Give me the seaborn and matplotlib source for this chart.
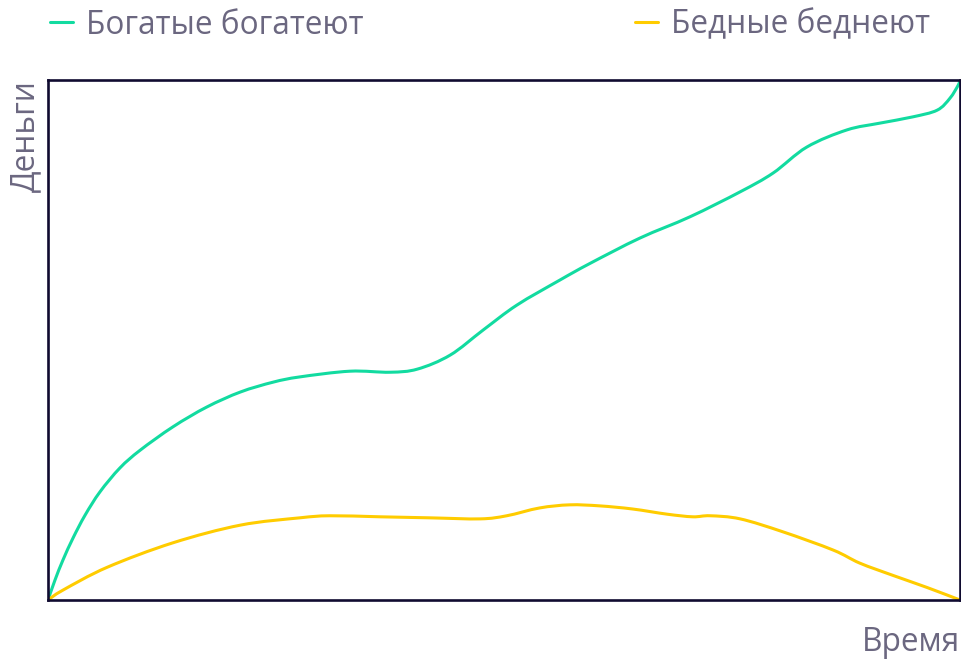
import matplotlib
matplotlib.use("Agg")
import matplotlib.pyplot as plt
from matplotlib.path import Path
from matplotlib.patches import PathPatch
import seaborn as sns
import pandas as pd

# Time axis and money values for the "rich" series
rich_time = [0, 0.77, 1.64, 2.74, 4.06, 5.70, 7.89, 10.1, 13.7, 17.4, 21.1, 24.7, 27.6,
             33.1, 37.5, 40.5, 44.1, 47.7, 51.4, 56.1, 59.4, 64.9, 70.4, 75.9, 79.5,
             83.2, 87.6, 91.2, 94.8, 97.5, 98.9, 99.8, 100]
rich_money = [0, 3.85, 7.69, 11.9, 16.3, 20.8, 25.4, 28.8, 33.3, 37.1, 40.0, 41.9, 42.9,
              44.0, 43.8, 44.4, 47.1, 51.9, 56.7, 61.5, 64.7, 69.6, 73.7, 78.5, 82.1,
              87.1, 90.4, 91.7, 92.9, 94.2, 96.5, 99.0, 100]

# Time axis and money values for the "poor" series
poor_time = [0, 1.64, 6.5, 13.7, 21.1, 27.6, 30.9, 36.4, 41.9, 47.4, 50.3, 53.9, 57.2,
             60.5, 64.1, 67.9, 70.7, 72.6, 75.9, 80.6, 86.1, 89.0, 92.7, 96.4, 100]
poor_money = [0, 1.9, 6.3, 11.0, 14.4, 15.8, 16.2, 16.0, 15.8, 15.6, 16.2, 17.7, 18.3,
              18.1, 17.5, 16.5, 16.0, 16.2, 15.6, 13.1, 9.6, 7.1, 4.7, 2.4, 0]

series_names = ["Богатые богатеют", "Бедные беднеют"]
series_colors = ["#12DBA0", "#FFCC00"]
x_label = "Время"
y_label = "Деньги"

df = pd.concat([
    pd.DataFrame({"t": rich_time, "v": rich_money, "s": series_names[0]}),
    pd.DataFrame({"t": poor_time, "v": poor_money, "s": series_names[1]}),
], ignore_index=True)

sns.set_theme(style="white")
plt.rcParams["font.family"] = ["Open Sans", "DejaVu Sans"]
text_color = "#6b6780"
border_color = "#100b30"
fs = 22.8
lw = 2.2

fig = plt.figure(figsize=(9.62, 6.59), dpi=100)
ax = fig.add_axes([48 / 962, 59 / 659, 912 / 962, 520 / 659])

sns.lineplot(data=df, x="t", y="v", hue="s", palette=series_colors,
             hue_order=series_names, linewidth=lw, ax=ax, legend=False,
             sort=False)


def spline_path(xs, ys):
    """Cubic Bezier path through every point (Catmull-Rom tangents)."""
    pts = list(zip(xs, ys))
    n = len(pts)
    verts = [pts[0]]
    codes = [Path.MOVETO]
    for i in range(n - 1):
        p0 = pts[max(i - 1, 0)]
        p1 = pts[i]
        p2 = pts[i + 1]
        p3 = pts[min(i + 2, n - 1)]
        c1 = (p1[0] + (p2[0] - p0[0]) / 6, p1[1] + (p2[1] - p0[1]) / 6)
        c2 = (p2[0] - (p3[0] - p1[0]) / 6, p2[1] - (p3[1] - p1[1]) / 6)
        verts += [c1, c2, p2]
        codes += [Path.CURVE4] * 3
    return Path(verts, codes)


# Render each seaborn line as a smooth spline through its own points
for ln in list(ax.get_lines()):
    path = spline_path(ln.get_xdata(), ln.get_ydata())
    ax.add_patch(PathPatch(path, fill=False, edgecolor=ln.get_color(),
                           linewidth=lw, capstyle="round", joinstyle="round",
                           zorder=ln.get_zorder()))
    ln.set_visible(False)

ax.set_xlim(0, 100)
ax.set_ylim(0, 100)
ax.set_xticks([])
ax.set_yticks([])
for sp in ax.spines.values():
    sp.set_visible(True)
    sp.set_color(border_color)
    sp.set_linewidth(1.9)
    sp.set_zorder(5)

ax.set_xlabel(x_label, loc="right", fontsize=fs, color=text_color, labelpad=19)
ax.set_ylabel(y_label, loc="top", fontsize=fs, color=text_color, labelpad=4)

handles = [plt.Line2D([], [], color=c, linewidth=lw) for c in series_colors]
fig.legend(handles, series_names, loc="center", ncol=2, mode="expand",
           bbox_to_anchor=(50 / 962, 1 - 45 / 659, 880 / 962, 40 / 659),
           frameon=False, fontsize=fs, labelcolor=text_color,
           handlelength=0.73, handletextpad=0.41, borderpad=0, borderaxespad=0)

fig.savefig("out.png", dpi=100)
